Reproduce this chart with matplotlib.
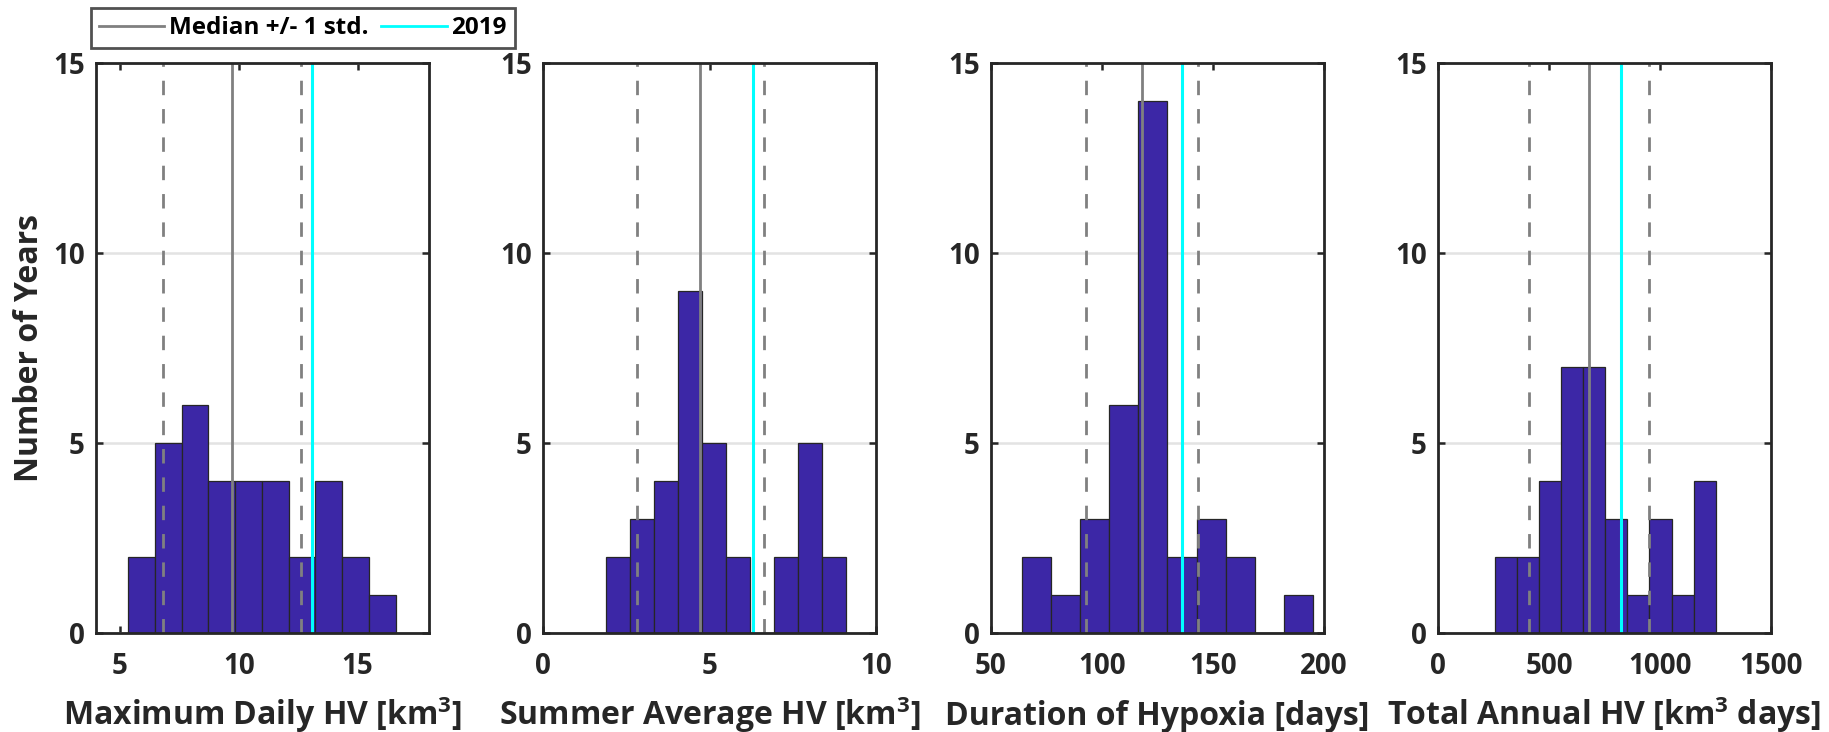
"""Histograms of hypoxia metrics with median +/- 1 std and 2019 markers"""
import numpy as np
import matplotlib
matplotlib.use('Agg')
import matplotlib.pyplot as plt
from matplotlib.lines import Line2D

plt.rcParams['font.family'] = ['Open Sans', 'DejaVu Sans']
plt.rcParams['font.weight'] = 'bold'
plt.rcParams['mathtext.fontset'] = 'custom'
plt.rcParams['mathtext.rm'] = 'Open Sans:bold'
plt.rcParams['mathtext.bf'] = 'Open Sans:bold'

# Bin ranges (MATLAB histogram, 10 equal bins) and counts per panel
max_daily_range = (5.35, 16.6)
max_daily_counts = [2, 5, 6, 4, 4, 4, 2, 4, 2, 1]
summer_avg_range = (1.89, 9.11)
summer_avg_counts = [2, 3, 4, 9, 5, 2, 0, 2, 5, 2]
duration_range = (64.0, 195.0)
duration_counts = [2, 1, 3, 6, 14, 2, 3, 2, 0, 1]
total_annual_range = (256.0, 1251.0)
total_annual_counts = [2, 2, 4, 7, 7, 3, 1, 3, 1, 4]

# median, lower (median - std), upper (median + std), 2019 value
max_daily_stats = [9.71, 6.8, 12.62, 13.09]
summer_avg_stats = [4.72, 2.83, 6.63, 6.30]
duration_stats = [117.9, 92.9, 143.3, 136.0]
total_annual_stats = [678.0, 409.0, 950.0, 825.0]

xlabels = ['Maximum Daily HV [km$^{3}$]',
           'Summer Average HV [km$^{3}$]',
           'Duration of Hypoxia [days]',
           'Total Annual HV [km$^{3}$ days]']
xlims = [(4, 18), (0, 10), (50, 200), (0, 1500)]
xticks = [[5, 10, 15], [0, 5, 10], [50, 100, 150, 200], [0, 500, 1000, 1500]]

panels = [
    (max_daily_range, max_daily_counts, max_daily_stats),
    (summer_avg_range, summer_avg_counts, summer_avg_stats),
    (duration_range, duration_counts, duration_stats),
    (total_annual_range, total_annual_counts, total_annual_stats),
]

BAR_COLOR = '#3c27a6'
AX_COLOR = '#262626'
W, H = 1829, 732
lefts = [96, 543, 991, 1438]

fig = plt.figure(figsize=(W / 100, H / 100), dpi=100)

axes = []
for i, ((lo, hi), counts, stats) in enumerate(panels):
    ax = fig.add_axes([lefts[i] / W, (H - 633) / H, 333 / W, 570 / H])
    axes.append(ax)

    # grid first so bars sit above it
    ax.set_axisbelow(True)
    ax.yaxis.grid(True, color='#e3e3e3', linewidth=1.8)

    edges = np.linspace(lo, hi, len(counts) + 1)
    ax.bar(edges[:-1], counts, width=np.diff(edges), align='edge',
           color=BAR_COLOR, edgecolor=AX_COLOR, linewidth=0.9, zorder=2)

    med, low, up, y2019 = stats
    ax.axvline(med, color='#808080', linewidth=2.0, zorder=3)
    ax.axvline(low, color='#808080', linewidth=2.0, linestyle=(0, (5.2, 5.0)), zorder=3)
    ax.axvline(up, color='#808080', linewidth=2.0, linestyle=(0, (5.2, 5.0)), zorder=3)
    ax.axvline(y2019, color='#00ffff', linewidth=2.2, zorder=3)

    ax.set_xlim(*xlims[i])
    ax.set_ylim(0, 15)
    ax.set_xticks(xticks[i])
    ax.set_yticks([0, 5, 10, 15])
    ax.tick_params(direction='in', top=True, right=True, length=5, width=1.8,
                   color=AX_COLOR, labelcolor=AX_COLOR, labelsize=20)
    ax.tick_params(axis='x', pad=14)
    ax.tick_params(axis='y', pad=8)
    for sp in ax.spines.values():
        sp.set_linewidth(2.0)
        sp.set_color(AX_COLOR)
        sp.set_zorder(4)
    # baseline-aligned so labels with superscripts line up with plain ones
    ax.set_xlabel(xlabels[i], fontsize=23, fontweight='bold', color=AX_COLOR,
                  va='baseline')
    ax.xaxis.set_label_coords(0.5, -92 / 570)

axes[0].set_ylabel('Number of Years', fontsize=23, fontweight='bold', color=AX_COLOR, labelpad=5)

legend_elements = [
    Line2D([0], [0], color='#808080', linewidth=2.0, label='Median +/- 1 std.'),
    Line2D([0], [0], color='#00ffff', linewidth=2.0, label='2019'),
]
leg = fig.legend(handles=legend_elements, ncol=2, loc='lower left',
                 bbox_to_anchor=(91 / W, (H - 48) / H), frameon=True,
                 fancybox=False, edgecolor=AX_COLOR, fontsize=17.5,
                 handlelength=2.7, handletextpad=0.2, columnspacing=0.5,
                 borderpad=0.32, borderaxespad=0)
leg.get_frame().set_linewidth(2.0)
for t in leg.get_texts():
    t.set_color('black')

plt.savefig('out.png', dpi=100)
plt.close()
